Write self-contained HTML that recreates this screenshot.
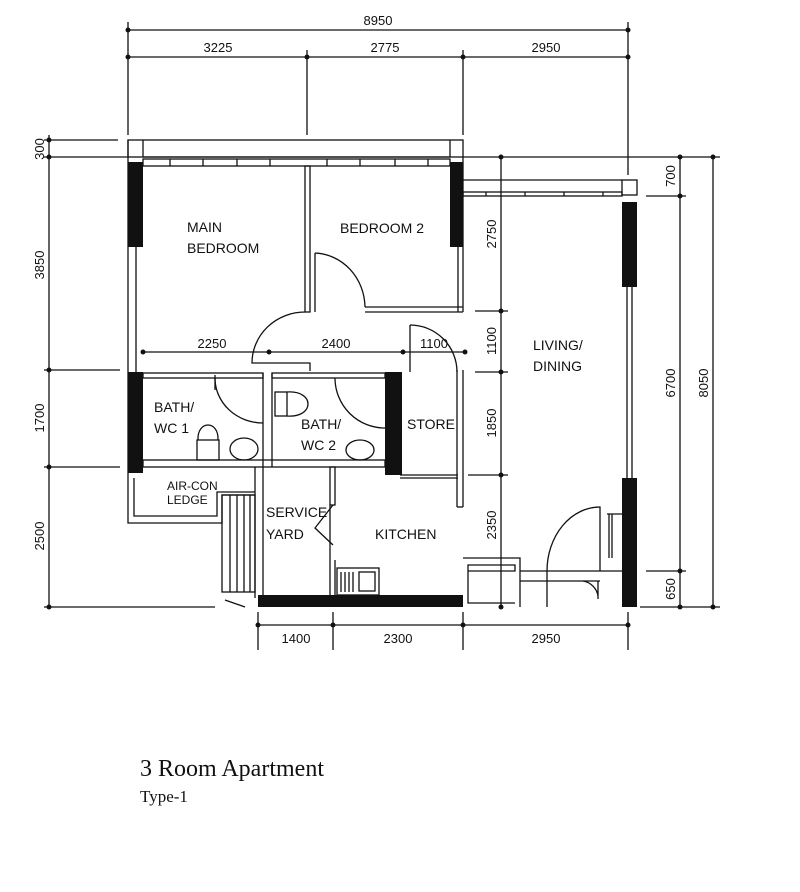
<!DOCTYPE html>
<html><head><meta charset="utf-8"><style>
html,body{margin:0;padding:0;background:#fff;width:800px;height:892px;overflow:hidden}
svg text{font-family:"Liberation Sans",sans-serif;fill:#111}
</style></head><body>
<svg width="800" height="892" viewBox="0 0 800 892" xmlns="http://www.w3.org/2000/svg">
<g stroke="#111" stroke-width="1.3" fill="none">
<line x1="128" y1="30" x2="628" y2="30"/>
<line x1="128" y1="57" x2="628" y2="57"/>
<line x1="128" y1="22" x2="128" y2="135"/>
<line x1="307" y1="50" x2="307" y2="135"/>
<line x1="463" y1="50" x2="463" y2="135"/>
<line x1="628" y1="22" x2="628" y2="175"/>
<line x1="49" y1="135" x2="49" y2="607"/>
<line x1="44" y1="140" x2="118" y2="140"/>
<line x1="44" y1="157" x2="128" y2="157"/>
<line x1="44" y1="370" x2="120" y2="370"/>
<line x1="44" y1="467" x2="120" y2="467"/>
<line x1="44" y1="607" x2="215" y2="607"/>
<line x1="463" y1="157" x2="720" y2="157"/>
<line x1="501" y1="157" x2="501" y2="607"/>
<line x1="680" y1="157" x2="680" y2="607"/>
<line x1="713" y1="157" x2="713" y2="607"/>
<line x1="646" y1="196" x2="686" y2="196"/>
<line x1="646" y1="571" x2="686" y2="571"/>
<line x1="640" y1="607" x2="720" y2="607"/>
<line x1="475" y1="311" x2="508" y2="311"/>
<line x1="475" y1="372" x2="508" y2="372"/>
<line x1="468" y1="475" x2="508" y2="475"/>
<line x1="258" y1="625" x2="628" y2="625"/>
<line x1="258" y1="612" x2="258" y2="650"/>
<line x1="333" y1="612" x2="333" y2="650"/>
<line x1="463" y1="612" x2="463" y2="650"/>
<line x1="628" y1="612" x2="628" y2="650"/>
<line x1="143" y1="352" x2="465" y2="352"/>
<rect x="128" y="140" width="335" height="17"/>
<line x1="143" y1="140" x2="143" y2="157"/>
<line x1="450" y1="140" x2="450" y2="157"/>
<line x1="143" y1="157" x2="450" y2="157"/>
<rect x="143" y="159" width="307" height="7"/>
<line x1="170" y1="159" x2="170" y2="166"/><line x1="203" y1="159" x2="203" y2="166"/><line x1="237" y1="159" x2="237" y2="166"/><line x1="270" y1="159" x2="270" y2="166"/>
<line x1="327" y1="159" x2="327" y2="166"/><line x1="360" y1="159" x2="360" y2="166"/><line x1="395" y1="159" x2="395" y2="166"/><line x1="428" y1="159" x2="428" y2="166"/>
<line x1="128" y1="140" x2="128" y2="473"/>
<line x1="136" y1="247" x2="136" y2="372"/>
<rect x="305" y="166" width="5" height="146"/>
<line x1="365" y1="307" x2="463" y2="307"/>
<line x1="365" y1="312" x2="463" y2="312"/>
<line x1="458" y1="247" x2="458" y2="312"/>
<line x1="463" y1="157" x2="463" y2="312"/>
<path d="M315 253 V312 M315 253 A52 55 0 0 1 365 307"/>
<path d="M305 363 H252 A53 51 0 0 1 305 312"/>
<path d="M305 363 h5 v8"/>
<path d="M410 325 V372 M410 325 A47 47 0 0 1 457 372"/>
<rect x="143" y="373" width="120" height="5"/>
<rect x="272" y="373" width="113" height="5"/>
<line x1="263" y1="373" x2="263" y2="467"/>
<line x1="272" y1="373" x2="272" y2="467"/>
<rect x="143" y="460" width="242" height="7"/>
<path d="M215 378 A48 45 0 0 0 263 423"/>
<line x1="215" y1="375" x2="215" y2="390"/>
<path d="M335 378 A50 50 0 0 0 385 428"/>
<rect x="197" y="440" width="22" height="20"/>
<path d="M198 440 C197 420 219 420 218 440"/>
<ellipse cx="244" cy="449" rx="14" ry="11"/>
<rect x="275" y="392" width="12" height="24"/>
<path d="M287 392 C315 390 315 418 287 416"/>
<ellipse cx="360" cy="450" rx="14" ry="10"/>
<line x1="400" y1="475" x2="458" y2="475"/>
<line x1="400" y1="478" x2="458" y2="478"/>
<line x1="457" y1="370" x2="457" y2="507"/>
<line x1="463" y1="370" x2="463" y2="507"/>
<line x1="457" y1="507" x2="463" y2="507"/>
<path d="M128 473 V523 H222 V495 H255"/>
<path d="M134 478 V516 H217 V492 H255"/>
<rect x="222" y="495" width="33" height="97"/>
<line x1="230" y1="495" x2="230" y2="592"/><line x1="237" y1="495" x2="237" y2="592"/><line x1="244" y1="495" x2="244" y2="592"/><line x1="250" y1="495" x2="250" y2="592"/>
<line x1="225" y1="600" x2="245" y2="607"/>
<line x1="255" y1="467" x2="255" y2="598"/>
<line x1="263" y1="467" x2="263" y2="598"/>
<rect x="330" y="467" width="5" height="38"/>
<line x1="330" y1="505" x2="330" y2="598"/>
<line x1="335" y1="560" x2="335" y2="598"/>
<path d="M333 505 L315 528 L333 545"/>
<rect x="337" y="568" width="42" height="27"/>
<line x1="341" y1="572" x2="341" y2="592"/><line x1="345" y1="572" x2="345" y2="592"/><line x1="349" y1="572" x2="349" y2="592"/><line x1="353" y1="572" x2="353" y2="592"/>
<rect x="359" y="572" width="16" height="19"/>
<line x1="463" y1="180" x2="622" y2="180"/>
<rect x="463" y="192" width="159" height="4"/>
<line x1="486" y1="192" x2="486" y2="196"/><line x1="525" y1="192" x2="525" y2="196"/><line x1="564" y1="192" x2="564" y2="196"/><line x1="603" y1="192" x2="603" y2="196"/>
<rect x="622" y="180" width="15" height="15"/>
<line x1="627" y1="287" x2="627" y2="478"/>
<line x1="632" y1="287" x2="632" y2="478"/>
<path d="M463 558 H520 V607 M468 565 H515 V571 H468 Z M468 571 V603 H515"/>
<line x1="520" y1="571" x2="622" y2="571"/>
<line x1="520" y1="581" x2="600" y2="581"/>
<path d="M600 571 V507 A53 64 0 0 0 547 571 V607"/>
<path d="M583 581 A18 18 0 0 1 598 596 M598 581 V599"/>
<path d="M607 514 h15 M609 514 V558 M612 514 V558"/>
</g>
<g fill="#111">
<rect x="128" y="162" width="15" height="85"/>
<rect x="450" y="162" width="13" height="85"/>
<rect x="128" y="372" width="15" height="101"/>
<rect x="385" y="372" width="17" height="103"/>
<rect x="622" y="202" width="15" height="85"/>
<rect x="622" y="478" width="15" height="129"/>
<rect x="258" y="595" width="205" height="12"/>
</g>
<g fill="#111">
<circle cx="128" cy="30" r="2.5"/><circle cx="628" cy="30" r="2.5"/>
<circle cx="128" cy="57" r="2.5"/><circle cx="307" cy="57" r="2.5"/><circle cx="463" cy="57" r="2.5"/><circle cx="628" cy="57" r="2.5"/>
<circle cx="49" cy="140" r="2.5"/><circle cx="49" cy="157" r="2.5"/><circle cx="49" cy="370" r="2.5"/><circle cx="49" cy="467" r="2.5"/><circle cx="49" cy="607" r="2.5"/>
<circle cx="501" cy="157" r="2.5"/><circle cx="501" cy="311" r="2.5"/><circle cx="501" cy="372" r="2.5"/><circle cx="501" cy="475" r="2.5"/><circle cx="501" cy="607" r="2.5"/>
<circle cx="680" cy="157" r="2.5"/><circle cx="680" cy="196" r="2.5"/><circle cx="680" cy="571" r="2.5"/><circle cx="680" cy="607" r="2.5"/>
<circle cx="713" cy="157" r="2.5"/><circle cx="713" cy="607" r="2.5"/>
<circle cx="143" cy="352" r="2.5"/><circle cx="269" cy="352" r="2.5"/><circle cx="403" cy="352" r="2.5"/><circle cx="465" cy="352" r="2.5"/>
<circle cx="258" cy="625" r="2.5"/><circle cx="333" cy="625" r="2.5"/><circle cx="463" cy="625" r="2.5"/><circle cx="628" cy="625" r="2.5"/>
</g>
<g font-size="13" text-anchor="middle">
<text x="378" y="25">8950</text>
<text x="218" y="52">3225</text>
<text x="385" y="52">2775</text>
<text x="546" y="52">2950</text>
<text x="212" y="348">2250</text>
<text x="336" y="348">2400</text>
<text x="434" y="348">1100</text>
<text x="296" y="643">1400</text>
<text x="398" y="643">2300</text>
<text x="546" y="643">2950</text>
<text transform="translate(44,149) rotate(-90)">300</text>
<text transform="translate(44,265) rotate(-90)">3850</text>
<text transform="translate(44,418) rotate(-90)">1700</text>
<text transform="translate(44,536) rotate(-90)">2500</text>
<text transform="translate(496,234) rotate(-90)">2750</text>
<text transform="translate(496,341) rotate(-90)">1100</text>
<text transform="translate(496,423) rotate(-90)">1850</text>
<text transform="translate(496,525) rotate(-90)">2350</text>
<text transform="translate(675,176) rotate(-90)">700</text>
<text transform="translate(675,383) rotate(-90)">6700</text>
<text transform="translate(675,589) rotate(-90)">650</text>
<text transform="translate(708,383) rotate(-90)">8050</text>
</g>
<g font-size="14">
<text x="187" y="232">MAIN</text>
<text x="187" y="253">BEDROOM</text>
<text x="340" y="233">BEDROOM  2</text>
<text x="533" y="350">LIVING/</text>
<text x="533" y="371">DINING</text>
<text x="154" y="412">BATH/</text>
<text x="154" y="433">WC  1</text>
<text x="301" y="429">BATH/</text>
<text x="301" y="450">WC  2</text>
<text x="407" y="429">STORE</text>
<text x="167" y="490" font-size="12">AIR-CON</text>
<text x="167" y="504" font-size="12">LEDGE</text>
<text x="266" y="517">SERVICE</text>
<text x="266" y="539">YARD</text>
<text x="375" y="539">KITCHEN</text>
</g>
<text x="140" y="776" style="font-family:'Liberation Serif',serif" font-size="24">3 Room Apartment</text>
<text x="140" y="802" style="font-family:'Liberation Serif',serif" font-size="17">Type-1</text>
</svg>
</body></html>
